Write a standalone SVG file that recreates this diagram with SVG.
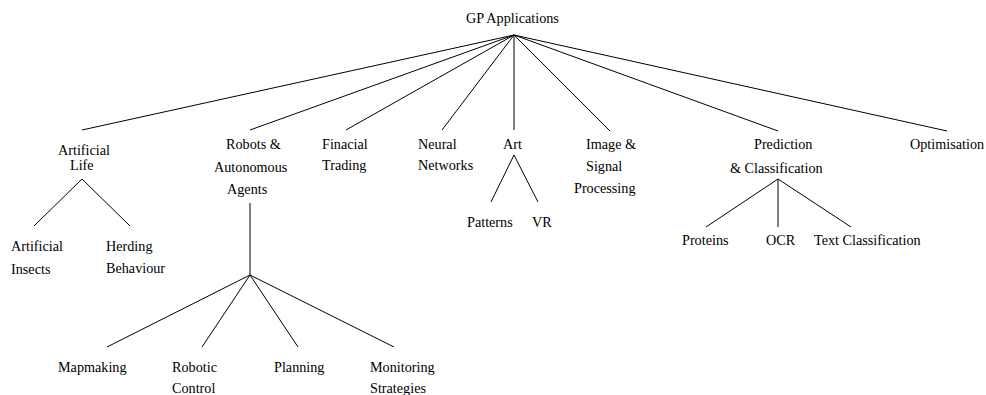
<svg xmlns="http://www.w3.org/2000/svg" width="986" height="395" viewBox="0 0 986 395">
<style>
text{font-family:"Liberation Serif","Times New Roman",serif;font-size:14.2px;fill:#000}
.c line{stroke:#000;stroke-width:1;fill:none}
</style>
<rect width="986" height="395" fill="#fff"/>
<g class="c" id="connectors">
<line x1="514" y1="35" x2="82" y2="130"/>
<line x1="514" y1="35" x2="250" y2="130"/>
<line x1="514" y1="35" x2="346" y2="130"/>
<line x1="514" y1="35" x2="442" y2="130"/>
<line x1="514" y1="35" x2="514" y2="130"/>
<line x1="514" y1="35" x2="610" y2="131"/>
<line x1="514" y1="35" x2="778" y2="131"/>
<line x1="514" y1="35" x2="947" y2="131"/>
<line x1="82" y1="179" x2="34" y2="226"/>
<line x1="82" y1="179" x2="130" y2="226"/>
<line x1="250" y1="203" x2="250" y2="275"/>
<line x1="250" y1="275" x2="107" y2="347"/>
<line x1="250" y1="275" x2="202" y2="347"/>
<line x1="250" y1="275" x2="298" y2="347"/>
<line x1="250" y1="275" x2="394" y2="347"/>
<line x1="514" y1="155" x2="491" y2="202"/>
<line x1="514" y1="155" x2="538" y2="202"/>
<line x1="778" y1="179" x2="706" y2="227"/>
<line x1="778" y1="179" x2="778" y2="227"/>
<line x1="778" y1="179" x2="851" y2="227"/>
</g>
<g id="root"><text x="466" y="23">GP Applications</text></g>
<g id="artificial-life"><text x="58" y="155">Artificial</text><text x="70" y="170">Life</text></g>
<g id="artificial-insects"><text x="11" y="251">Artificial</text><text x="11" y="274">Insects</text></g>
<g id="herding"><text x="106" y="251">Herding</text><text x="106" y="273">Behaviour</text></g>
<g id="robots"><text x="226" y="149">Robots &amp;</text><text x="214" y="172">Autonomous</text><text x="227" y="194">Agents</text></g>
<g id="mapmaking"><text x="58" y="372">Mapmaking</text></g>
<g id="robotic-control"><text x="172" y="372">Robotic</text><text x="172" y="393">Control</text></g>
<g id="planning"><text x="274" y="372">Planning</text></g>
<g id="monitoring"><text x="370" y="372">Monitoring</text><text x="370" y="393">Strategies</text></g>
<g id="financial"><text x="322" y="149">Finacial</text><text x="322" y="170">Trading</text></g>
<g id="neural"><text x="418" y="149">Neural</text><text x="418" y="170">Networks</text></g>
<g id="art"><text x="503" y="149">Art</text></g>
<g id="patterns"><text x="467" y="227">Patterns</text></g>
<g id="vr"><text x="532" y="227">VR</text></g>
<g id="image"><text x="586" y="149">Image &amp;</text><text x="586" y="171">Signal</text><text x="574" y="193">Processing</text></g>
<g id="prediction"><text x="754" y="149">Prediction</text><text x="730" y="173">&amp; Classification</text></g>
<g id="proteins"><text x="682" y="245">Proteins</text></g>
<g id="ocr"><text x="766" y="245">OCR</text></g>
<g id="text-classification"><text x="814" y="245">Text Classification</text></g>
<g id="optimisation"><text x="910" y="149">Optimisation</text></g>
</svg>
